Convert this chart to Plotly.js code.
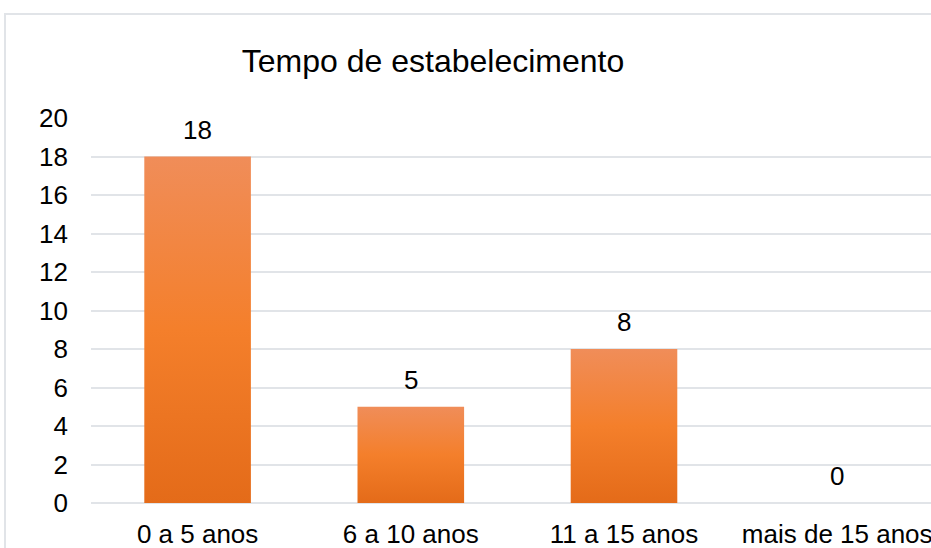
<!DOCTYPE html>
<html>
<head>
<meta charset="utf-8">
<script src="https://cdn.plot.ly/plotly-3.0.1.min.js"></script>
<style>
  html, body { margin: 0; padding: 0; background: #fff; }
  #wrap { position: relative; width: 931px; height: 548px; overflow: hidden; }
  #chart { width: 931px; height: 548px; }
  #frame { position: absolute; left: 4px; top: 13px; width: 1000px; height: 600px;
           border: 2px solid #e1e4e8; pointer-events: none; box-sizing: border-box; }
</style>
</head>
<body>
<div id="wrap">
  <div id="chart"></div>
  <div id="frame"></div>
</div>
<script>
const categories = ["0 a 5 anos", "6 a 10 anos", "11 a 15 anos", "mais de 15 anos"];
const values = [18, 5, 8, 0];
const yTicks = [0, 2, 4, 6, 8, 10, 12, 14, 16, 18, 20];

const FONT = "Liberation Sans, Arial, sans-serif";

const trace = {
  type: "bar",
  x: categories,
  y: values,
  marker: { color: "#f27f2e", line: { width: 0 } },
  hoverinfo: "none"
};

const annotations = categories.map(function (c, i) {
  return {
    x: c, y: values[i], xref: "x", yref: "y",
    text: String(values[i]),
    showarrow: false,
    yanchor: "bottom", xanchor: "center",
    yshift: 10,
    font: { family: FONT, size: 26, color: "#000" }
  };
});

const layout = {
  width: 931, height: 548,
  margin: { l: 91, r: 0, t: 118, b: 45 },
  paper_bgcolor: "#ffffff",
  plot_bgcolor: "#ffffff",
  showlegend: false,
  bargap: 0.5,
  annotations: annotations,
  title: {
    text: "Tempo de estabelecimento",
    font: { family: FONT, size: 32, color: "#000" },
    x: 433 / 931, xanchor: "center", xref: "container",
    y: 1 - 61 / 548, yanchor: "middle", yref: "container"
  },
  xaxis: {
    type: "category",
    range: [-0.5, 3.44],
    automargin: false,
    showgrid: false, zeroline: false, showline: false,
    ticks: "",
    ticklabelstandoff: 13,
    tickfont: { family: FONT, size: 26, color: "#000" }
  },
  yaxis: {
    range: [0, 20],
    automargin: false,
    tickvals: yTicks,
    ticktext: yTicks.map(String),
    showgrid: true, gridcolor: "#e1e4e8", gridwidth: 2,
    zeroline: true, zerolinecolor: "#e1e4e8", zerolinewidth: 2,
    showline: false, ticks: "",
    ticklabelstandoff: 22,
    tickfont: { family: FONT, size: 26, color: "#000" }
  }
};

Plotly.newPlot("chart", [trace], layout, { staticPlot: true, displayModeBar: false }).then(function (gd) {
  const svg = gd.querySelector("svg.main-svg");
  const ns = "http://www.w3.org/2000/svg";
  let defs = svg.querySelector("defs");
  if (!defs) { defs = document.createElementNS(ns, "defs"); svg.insertBefore(defs, svg.firstChild); }
  const grad = document.createElementNS(ns, "linearGradient");
  grad.setAttribute("id", "barGrad");
  grad.setAttribute("x1", "0"); grad.setAttribute("y1", "0");
  grad.setAttribute("x2", "0"); grad.setAttribute("y2", "1");
  [["0", "#f08d59"], ["0.5", "#f47f2b"], ["1", "#e46b19"]].forEach(function (s) {
    const st = document.createElementNS(ns, "stop");
    st.setAttribute("offset", s[0]);
    st.setAttribute("stop-color", s[1]);
    grad.appendChild(st);
  });
  defs.appendChild(grad);
  gd.querySelectorAll(".bars .point path").forEach(function (p) {
    p.style.fill = "url(#barGrad)";
  });
});
</script>
</body>
</html>
